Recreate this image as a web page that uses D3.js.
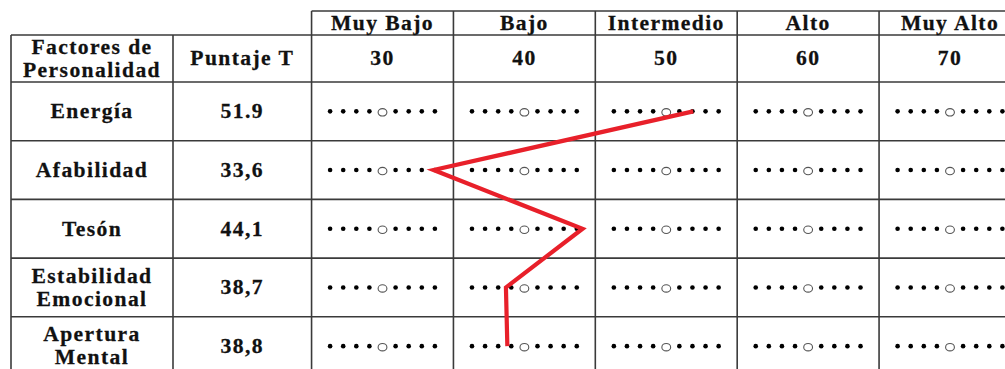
<!DOCTYPE html>
<html><head><meta charset="utf-8">
<script src="https://cdn.jsdelivr.net/npm/d3@7"></script>
<style>
html,body{margin:0;padding:0;background:#fff;}
svg text{font-family:"Liberation Serif","Times New Roman",serif;font-weight:bold;fill:#111;}
</style></head>
<body><svg id="c" width="1005" height="369"></svg>
<script>
const levels = ["Muy Bajo","Bajo","Intermedio","Alto","Muy Alto"];
const levelScores = [30,40,50,60,70];
const factors = [["Energía"],["Afabilidad"],["Tesón"],["Estabilidad","Emocional"],["Apertura","Mental"]];
const scoreLabels = ["51.9","33,6","44,1","38,7","38,8"];
const scores = [51.9,33.6,44.1,38.7,38.8];
const headerFactor = ["Factores de","Personalidad"];
const headerScore = "Puntaje T";

const svg = d3.select("#c");
const W = 1005;
const x = d3.scaleLinear().domain([30,70]).range([382.5,950]);
const y = d3.scaleBand().domain(d3.range(factors.length)).range([82,375.5]).paddingInner(0).paddingOuter(0);
const top0 = 11, top1 = 35, top2 = 82;
const col0 = 11, col1 = 173, col2 = x(25);
const gridColor = "#3a3a3a";

function addText(g, lines, cx, cy){
  const n = lines.length;
  lines.forEach((t,i)=>{
    const by = cy + 6.8 + (i - (n-1)/2) * 23;
    const tg = g.append("g").attr("transform",`translate(${cx},${by}) scale(1.08,1)`);
    tg.append("text").attr("text-anchor","middle").attr("font-size",20)
      .attr("letter-spacing","1.3px").attr("stroke","#111").attr("stroke-width",0.25).text(t);
  });
}

// grid lines
const grid = svg.append("g").attr("stroke",gridColor).attr("stroke-width",1.6).attr("fill","none");
grid.append("line").attr("x1",col2).attr("x2",W+20).attr("y1",top0).attr("y2",top0);
grid.append("line").attr("x1",col0).attr("x2",W+20).attr("y1",top1).attr("y2",top1);
[0,1,2,3,4].forEach(i=>{
  grid.append("line").attr("x1",col0).attr("x2",W+20).attr("y1",y(i)).attr("y2",y(i));
});
grid.append("line").attr("x1",col0).attr("x2",col0).attr("y1",top1).attr("y2",400);
grid.append("line").attr("x1",col1).attr("x2",col1).attr("y1",top1).attr("y2",400);
levelScores.forEach(s=>{
  grid.append("line").attr("x1",x(s-5)).attr("x2",x(s-5)).attr("y1",top0).attr("y2",400);
});
grid.append("line").attr("x1",x(75)).attr("x2",x(75)).attr("y1",top0).attr("y2",400);

// header text
const tg = svg.append("g");
levels.forEach((l,i)=> addText(tg,[l],x(levelScores[i]),(top0+top1)/2));
levelScores.forEach(s=> addText(tg,[String(s)],x(s),(top1+top2)/2));
addText(tg,headerFactor,(col0+col1)/2,(top1+top2)/2);
addText(tg,[headerScore],(col1+col2)/2,(top1+top2)/2);
factors.forEach((f,i)=>{
  const cy = y(i)+y.bandwidth()/2;
  addText(tg,f,(col0+col1)/2,cy);
  addText(tg,[scoreLabels[i]],(col1+col2)/2,cy);
});

// dots
const dg = svg.append("g");
const offs = [-4,-3,-2,-1,1,2,3,4];
factors.forEach((f,i)=>{
  const cy = y(i)+y.bandwidth()/2;
  levelScores.forEach(s=>{
    offs.forEach(o=>{
      dg.append("circle").attr("cx",x(s)+o*13.1).attr("cy",cy).attr("r",2.3).attr("fill","#000");
    });
    dg.append("ellipse").attr("cx",x(s)).attr("cy",cy+1).attr("rx",4.4).attr("ry",3.7)
      .attr("fill","#fff").attr("stroke","#555").attr("stroke-width",1.1);
  });
});

// profile line
const line = d3.line().x(d=>x(d.v)).y(d=>y(d.i)+y.bandwidth()/2);
svg.append("path").datum(scores.map((v,i)=>({v,i})))
  .attr("d",line).attr("fill","none").attr("stroke","#e8202a").attr("stroke-width",4.2)
  .attr("stroke-linejoin","miter").attr("stroke-linecap","butt");
</script></body></html>
